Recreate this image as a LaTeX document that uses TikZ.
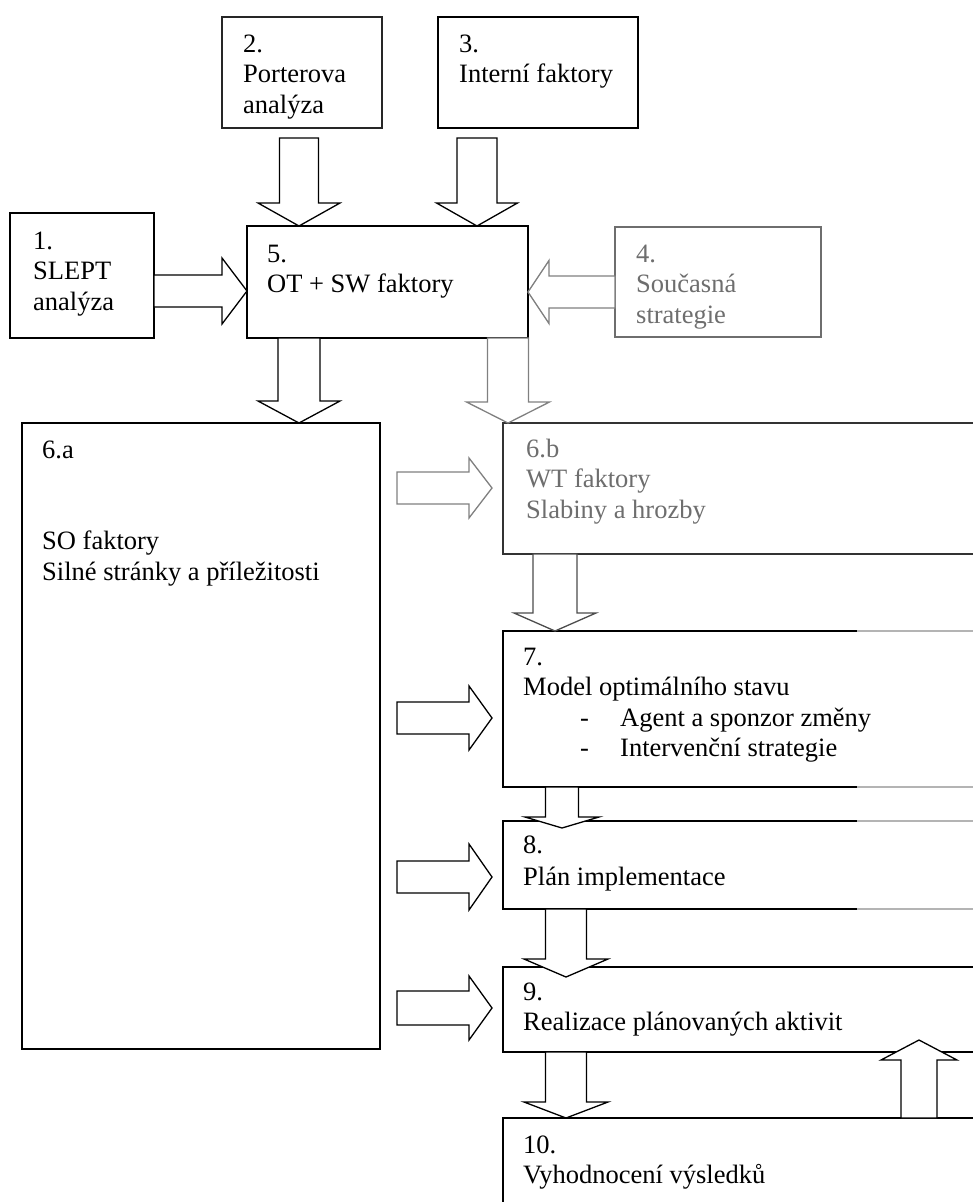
\documentclass[tikz,border=0pt]{standalone}
\usepackage{fontspec}
\setmainfont{Liberation Serif}
\usetikzlibrary{calc}

\definecolor{softgray}{HTML}{6E6E6E}
\definecolor{linegray}{HTML}{808080}
\definecolor{fadegray}{HTML}{B4B4B4}

\tikzset{
  box/.style={draw, line width=1.6pt, inner sep=0pt, outer sep=0pt, anchor=north west},
  % multi-line labels are placed by the baseline of their last line
  lbl/.style={anchor=base west, align=left, inner sep=0pt,
    font=\fontsize{26.5}{30.5}\selectfont},
  % hollow block arrow: #1 shaft half-width, #2 head half-width, #3 head length
  blockarrow/.style n args={3}{draw, fill=white, line width=1.3pt, line join=miter,
    to path={
      let \p1=(\tikztostart), \p2=(\tikztotarget),
          \n1={veclen(\x2-\x1,\y2-\y1)},
          \n2={(\x2-\x1)/\n1}, \n3={(\y2-\y1)/\n1}
      in
      ({\x1-(#1)*(\n3)},{\y1+(#1)*(\n2)})
      -- ({\x2-(#3)*(\n2)-(#1)*(\n3)},{\y2-(#3)*(\n3)+(#1)*(\n2)})
      -- ({\x2-(#3)*(\n2)-(#2)*(\n3)},{\y2-(#3)*(\n3)+(#2)*(\n2)})
      -- (\p2)
      -- ({\x2-(#3)*(\n2)+(#2)*(\n3)},{\y2-(#3)*(\n3)-(#2)*(\n2)})
      -- ({\x2-(#3)*(\n2)+(#1)*(\n3)},{\y2-(#3)*(\n3)-(#1)*(\n2)})
      -- ({\x1+(#1)*(\n3)},{\y1-(#1)*(\n2)})
      -- cycle
    }},
  fadeline/.style={draw=fadegray, line width=1.8pt}
}

\begin{document}
\begin{tikzpicture}[x=1pt, y=-1pt]
  \useasboundingbox (0,0) rectangle (973,1202);
  \fill[white] (0,0) rectangle (973,1202);
  \clip (0,0) rectangle (973,1202);

  % boxes
  \node[box, minimum width=144pt, minimum height=125pt] (b1) at (10,213) {};
  \node[box, draw=black!85, minimum width=160pt, minimum height=111pt] (b2) at (222,17) {};
  \node[box, minimum width=200pt, minimum height=111pt] (b3) at (438,17) {};
  \node[box, minimum width=281pt, minimum height=112pt] (b5) at (247,226) {};
  \node[box, draw=softgray, minimum width=206pt, minimum height=110pt] (b4) at (615,227) {};
  \node[box, minimum width=358pt, minimum height=626pt] (b6a) at (22,423) {};
  \node[box, draw=black!80, minimum width=490pt, minimum height=131pt] (b6b) at (503,423) {};
  \node[box, minimum width=490pt, minimum height=156pt] (b7) at (503,631) {};
  \node[box, minimum width=490pt, minimum height=88pt] (b8) at (503,821) {};
  \node[box, minimum width=490pt, minimum height=85pt] (b9) at (503,967) {};
  \node[box, minimum width=490pt, minimum height=120pt] (b10) at (503,1118) {};

  % faded right-hand stretches of the borders of 7 and 8
  \coordinate (fade) at (857,0);
  \draw[fadeline] (b7.north west -| fade) -- (b7.north east);
  \draw[fadeline] (b7.south west -| fade) -- (b7.south east);
  \draw[fadeline] (b8.north west -| fade) -- (b8.north east);
  \draw[fadeline] (b8.south west -| fade) -- (b8.south east);

  % texts
  \node[lbl] (t1) at (33,310) {1.\\SLEPT\\analýza};
  \node[lbl] (t2) at (243,113) {2.\\Porterova\\analýza};
  \node[lbl] (t3) at (459,82.5) {3.\\Interní faktory};
  \node[lbl] (t5) at (267,292.5) {5.\\OT + SW faktory};
  \node[lbl, text=softgray] (t4) at (636,323) {4.\\Současná\\strategie};
  \node[lbl] (t6a) at (42,580) {6.a\\[61pt]SO faktory\\Silné stránky a příležitosti};
  \node[lbl, text=softgray] (t6b) at (526,518) {6.b\\WT faktory\\Slabiny a hrozby};
  \node[lbl] (t7) at (523,756.5) {7.\\Model optimálního stavu\\
    \hspace*{57pt}\makebox[40pt][l]{-}Agent a sponzor změny\\
    \hspace*{57pt}\makebox[40pt][l]{-}Intervenční strategie};
  \node[lbl] (t8) at (523,885.5) {8.\\[2pt]Plán implementace};
  \node[lbl] (t9) at (523,1030.5) {9.\\Realizace plánovaných aktivit};
  \node[lbl] (t10) at (523,1183.5) {10.\\Vyhodnocení výsledků};

  % block arrows into 5
  \draw[blockarrow={19.5}{41}{23}] ($(b2.south -| 299,0)+(0,10)$) to (b5.north -| 299,0);
  \draw[blockarrow={20}{40.5}{23}] ($(b3.south -| 477,0)+(0,10)$) to (b5.north -| 477,0);
  \draw[blockarrow={16}{33}{25}] (b1.east |- 0,291) to (b5.west |- 0,291);
  \draw[blockarrow={16}{31.5}{21}, draw=linegray] (b4.west |- 0,292) to (b5.east |- 0,292);

  % block arrows out of 5
  \draw[blockarrow={21}{41}{22}] (b5.south -| 299,0) to (b6a.north -| 299,0);
  \draw[blockarrow={20.5}{41.5}{21}, draw=linegray] (b5.south -| 508,0) to (b6b.north -| 508,0);

  % block arrows from 6.a to the right-hand column
  \draw[blockarrow={16}{30}{23}, draw=linegray] ($(b6a.east |- 0,488)+(17,0)$) to ($(b6b.west |- 0,488)+(-11,0)$);
  \draw[blockarrow={16}{32}{23}] ($(b6a.east |- 0,718)+(17,0)$) to ($(b7.west |- 0,718)+(-11,0)$);
  \draw[blockarrow={16}{33}{23}] ($(b6a.east |- 0,877)+(17,0)$) to ($(b8.west |- 0,877)+(-11,0)$);
  \draw[blockarrow={17}{32}{23}] ($(b6a.east |- 0,1008)+(17,0)$) to ($(b9.west |- 0,1008)+(-11,0)$);

  % block arrows down the right-hand column
  \draw[blockarrow={22}{41}{18}, draw=black!70] (b6b.south -| 555,0) to (b7.north -| 555,0);
  \draw[blockarrow={16.5}{37}{11}] (b7.south -| 562,0) to ($(b8.north -| 562,0)+(0,7)$);
  \draw[blockarrow={20.5}{42}{18}] (b8.south -| 566,0) to ($(b9.north -| 566,0)+(0,10)$);
  \draw[blockarrow={20.5}{42}{16}] (b9.south -| 566,0) to (b10.north -| 566,0);
  \draw[blockarrow={18}{38}{20}] (b10.north -| 919,0) to ($(b9.south -| 919,0)+(0,-12)$);
\end{tikzpicture}
\end{document}
